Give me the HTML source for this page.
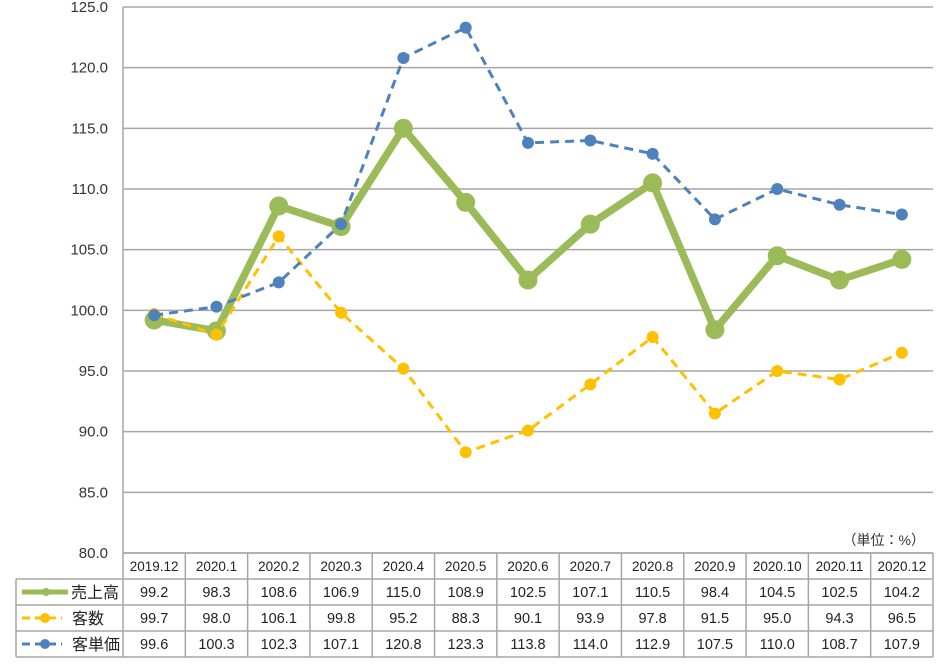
<!DOCTYPE html>
<html><head><meta charset="utf-8"><style>
body{margin:0;background:#fff;}
svg{display:block;font-family:"Liberation Sans","Noto Sans CJK JP",sans-serif;}
</style></head><body>
<svg id="s" width="942" height="665" xmlns="http://www.w3.org/2000/svg"></svg>
<script>
const s=document.getElementById('s');
const L=123,R=933,T=7,B=553,cw=(R-L)/13,py=(B-T)/45;
const Y=v=>B-(v-80)*py, X=i=>L+cw*(i+0.5);
const cats=["2019.12","2020.1","2020.2","2020.3","2020.4","2020.5","2020.6","2020.7","2020.8","2020.9","2020.10","2020.11","2020.12"];
const g=[99.2,98.3,108.6,106.9,115.0,108.9,102.5,107.1,110.5,98.4,104.5,102.5,104.2];
const y=[99.7,98.0,106.1,99.8,95.2,88.3,90.1,93.9,97.8,91.5,95.0,94.3,96.5];
const b=[99.6,100.3,102.3,107.1,120.8,123.3,113.8,114.0,112.9,107.5,110.0,108.7,107.9];
let h='';
for(let v=80;v<=125;v+=5){const yy=Y(v);h+=`<line x1="${L}" y1="${yy}" x2="${R}" y2="${yy}" stroke="#a6a6a6" stroke-width="1.5"/>`;
h+=`<text x="108" y="${yy+5}" text-anchor="end" font-size="15" fill="#333">${v.toFixed(1)}</text>`;}
h+=`<line x1="${L}" y1="${T}" x2="${L}" y2="${B}" stroke="#a6a6a6" stroke-width="1.5"/>`;
function series(d,c,w,r,dash){let p=d.map((v,i)=>X(i)+','+Y(v)).join(' ');
h+=`<polyline points="${p}" fill="none" stroke="${c}" stroke-width="${w}" ${dash?'stroke-dasharray="9,6"':''} stroke-linejoin="round"/>`;
d.forEach((v,i)=>h+=`<circle cx="${X(i)}" cy="${Y(v)}" r="${r}" fill="${c}"/>`);}
series(g,"#9bbb59",7.5,9.5,false);
series(y,"#ffc000",3,6,true);
series(b,"#4f81bd",3,6,true);
const rows=[579,605,631,657];
h+=`<text x="925" y="545" text-anchor="end" font-size="14" fill="#333">（単位：%）</text>`;
const st='stroke="#a6a6a6" stroke-width="1.5"';
h+=`<line x1="${L}" y1="${B}" x2="${R}" y2="${B}" ${st}/>`;
rows.forEach(r=>h+=`<line x1="16" y1="${r}" x2="${R}" y2="${r}" ${st}/>`);
h+=`<line x1="16" y1="579" x2="16" y2="657" ${st}/>`;
for(let i=0;i<=13;i++){const x=L+cw*i;h+=`<line x1="${x}" y1="${B}" x2="${x}" y2="657" ${st}/>`;}
cats.forEach((c,i)=>h+=`<text x="${X(i)}" y="571" text-anchor="middle" font-size="13.5" fill="#222">${c}</text>`);
const data=[g,y,b],names=["売上高","客数","客単価"],cols=["#9bbb59","#ffc000","#4f81bd"];
data.forEach((d,k)=>{const cy=rows[k]+13;
d.forEach((v,i)=>h+=`<text x="${X(i)}" y="${cy+5}" text-anchor="middle" font-size="14.5" fill="#222">${v.toFixed(1)}</text>`);
if(k==0)h+=`<line x1="22" y1="${cy}" x2="68" y2="${cy}" stroke="${cols[k]}" stroke-width="5"/>`;
else h+=`<line x1="22" y1="${cy}" x2="62" y2="${cy}" stroke="${cols[k]}" stroke-width="3" stroke-dasharray="8,5"/>`;
h+=`<circle cx="${k==0?46:45}" cy="${cy}" r="${k==0?4:5}" fill="${cols[k]}"/>`;
h+=`<text x="${k==0?71:72}" y="${cy+6}" font-size="16" fill="#222">${names[k]}</text>`;});
s.innerHTML=h;
</script>
</body></html>
